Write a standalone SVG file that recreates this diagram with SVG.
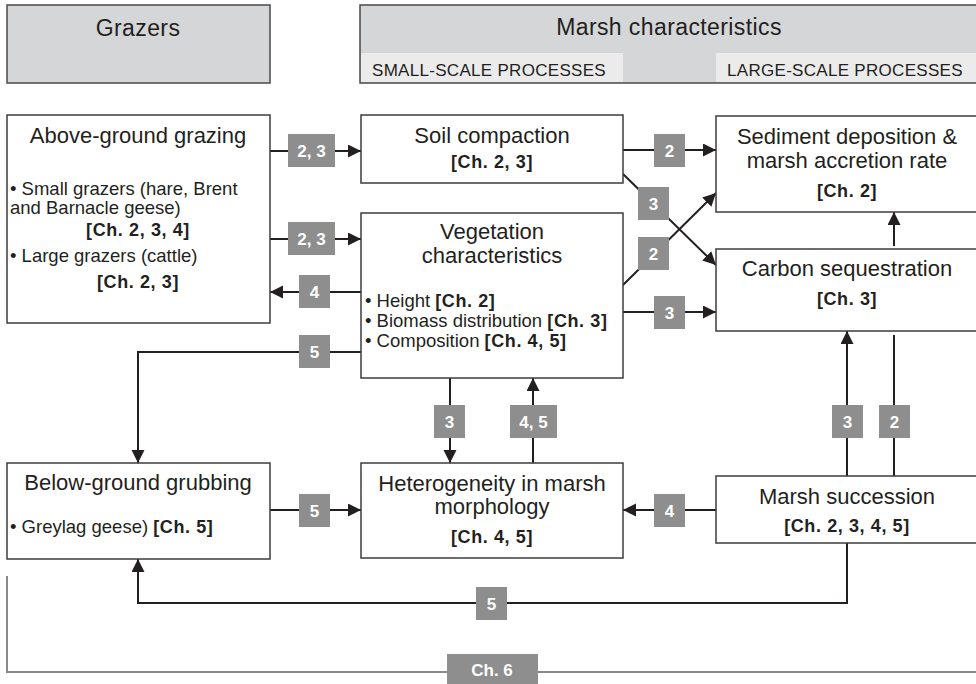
<svg xmlns="http://www.w3.org/2000/svg" width="976" height="684" viewBox="0 0 976 684">
<defs>
<marker id="ah" markerUnits="userSpaceOnUse" markerWidth="14" markerHeight="14" refX="13" refY="6.5" orient="auto">
<path d="M0,0 L13,6.5 L0,13 z" fill="#231f20"/>
</marker>
<style>
text{font-family:"Liberation Sans",Arial,sans-serif;fill:#231f20}
.hdr{fill:#d5d6d8;stroke:#4a4a4a;stroke-width:1.5}
.strip{fill:#ebebec}
.htxt{font-size:23px;text-anchor:middle;letter-spacing:0.4px}
.stxt{font-size:17px;letter-spacing:0.3px}
.box{fill:#fff;stroke:#3c3c3c;stroke-width:1.5}
.title{font-size:22px;text-anchor:middle}
.body{font-size:18.5px}
.ref{font-size:18px;font-weight:bold;letter-spacing:0.6px}
.c{text-anchor:middle}
.ln{fill:none;stroke:#231f20;stroke-width:2}
.arr{marker-end:url(#ah)}
.lbl{fill:#8e8e8e}
.ltxt{font-size:17px;font-weight:bold;fill:#fff;text-anchor:middle}
.ch6{fill:none;stroke:#8a8a8a;stroke-width:2}
</style>
</defs>
<rect width="976" height="684" fill="#fff"/>

<g id="header-grazers">
<rect class="hdr" x="7" y="5" width="263" height="78"/>
<text class="htxt" x="138" y="36">Grazers</text>
</g>
<g id="header-marsh">
<rect class="hdr" x="360" y="5" width="630" height="78"/>
<rect class="strip" x="361" y="53" width="262" height="29"/>
<rect class="strip" x="716" y="53" width="270" height="29"/>
<text class="htxt" x="669" y="35">Marsh characteristics</text>
<text class="stxt" x="372" y="76">SMALL-SCALE PROCESSES</text>
<text class="stxt" x="727" y="76">LARGE-SCALE PROCESSES</text>
</g>

<g id="chapter6">
<path class="ch6" d="M7,576 V672 H980"/>
<rect class="lbl" x="447" y="654" width="91" height="34"/>
<text class="ltxt" x="492" y="676">Ch. 6</text>
</g>

<g id="connectors">
<line class="ln arr" x1="270" y1="151" x2="361" y2="151"/>
<line class="ln arr" x1="270" y1="239" x2="361" y2="239"/>
<line class="ln arr" x1="361" y1="292" x2="270" y2="292"/>
<path class="ln arr" d="M361,352 H138 V463"/>
<line class="ln arr" x1="270" y1="510" x2="361" y2="510"/>
<line class="ln arr" x1="450" y1="378" x2="450" y2="463"/>
<line class="ln arr" x1="533" y1="463" x2="533" y2="378"/>
<line class="ln arr" x1="623" y1="150" x2="716" y2="150"/>
<line class="ln arr" x1="623" y1="174" x2="716" y2="265"/>
<line class="ln arr" x1="623" y1="285" x2="716" y2="193"/>
<line class="ln arr" x1="623" y1="312" x2="716" y2="312"/>
<line class="ln arr" x1="847" y1="476" x2="847" y2="331"/>
<line class="ln" x1="894" y1="476" x2="894" y2="335"/>
<line class="ln arr" x1="894" y1="246" x2="894" y2="212"/>
<line class="ln arr" x1="716" y1="510" x2="623" y2="510"/>
<path class="ln arr" d="M847,543 V603 H138 V559"/>

<rect class="lbl" x="288" y="134" width="47" height="33"/><text class="ltxt" x="311.5" y="157">2, 3</text>
<rect class="lbl" x="288" y="222" width="47" height="33"/><text class="ltxt" x="311.5" y="245">2, 3</text>
<rect class="lbl" x="299" y="275" width="31" height="33"/><text class="ltxt" x="314.5" y="298">4</text>
<rect class="lbl" x="299" y="335" width="31" height="33"/><text class="ltxt" x="314.5" y="358">5</text>
<rect class="lbl" x="299" y="494" width="31" height="33"/><text class="ltxt" x="314.5" y="517">5</text>
<rect class="lbl" x="434" y="405" width="31" height="33"/><text class="ltxt" x="449.5" y="428">3</text>
<rect class="lbl" x="510" y="405" width="47" height="33"/><text class="ltxt" x="533.5" y="428">4, 5</text>
<rect class="lbl" x="654" y="134" width="31" height="33"/><text class="ltxt" x="669.5" y="157">2</text>
<rect class="lbl" x="638" y="187" width="31" height="33"/><text class="ltxt" x="653.5" y="210">3</text>
<rect class="lbl" x="638" y="237" width="31" height="33"/><text class="ltxt" x="653.5" y="260">2</text>
<rect class="lbl" x="654" y="296" width="31" height="33"/><text class="ltxt" x="669.5" y="319">3</text>
<rect class="lbl" x="832" y="405" width="31" height="33"/><text class="ltxt" x="847.5" y="428">3</text>
<rect class="lbl" x="879" y="405" width="31" height="33"/><text class="ltxt" x="894.5" y="428">2</text>
<rect class="lbl" x="654" y="494" width="31" height="33"/><text class="ltxt" x="669.5" y="517">4</text>
<rect class="lbl" x="476" y="587" width="31" height="33"/><text class="ltxt" x="491.5" y="610">5</text>
</g>

<g id="above-ground-grazing">
<rect class="box" x="7" y="115" width="263" height="208"/>
<text class="title" x="138" y="143">Above-ground grazing</text>
<text class="body" x="10" y="195">• Small grazers (hare, Brent</text>
<text class="body" x="10" y="214">and Barnacle geese)</text>
<text class="ref c" x="138" y="236">[Ch. 2, 3, 4]</text>
<text class="body" x="10" y="262">• Large grazers (cattle)</text>
<text class="ref c" x="138" y="288">[Ch. 2, 3]</text>
</g>

<g id="soil-compaction">
<rect class="box" x="361" y="115" width="262" height="68"/>
<text class="title" x="492" y="143">Soil compaction</text>
<text class="ref c" x="492" y="168">[Ch. 2, 3]</text>
</g>

<g id="vegetation-characteristics">
<rect class="box" x="361" y="213" width="262" height="165"/>
<text class="title" x="492" y="239">Vegetation</text>
<text class="title" x="492" y="263">characteristics</text>
<text class="body" x="365" y="307">• Height <tspan class="ref">[Ch. 2]</tspan></text>
<text class="body" x="365" y="327">• Biomass distribution <tspan class="ref">[Ch. 3]</tspan></text>
<text class="body" x="365" y="347">• Composition <tspan class="ref">[Ch. 4, 5]</tspan></text>
</g>

<g id="sediment-deposition">
<rect class="box" x="716" y="116" width="270" height="96"/>
<text class="title" x="847" y="144">Sediment deposition &amp;</text>
<text class="title" x="847" y="168">marsh accretion rate</text>
<text class="ref c" x="847" y="197">[Ch. 2]</text>
</g>

<g id="carbon-sequestration">
<rect class="box" x="716" y="249" width="270" height="82"/>
<text class="title" x="847" y="276">Carbon sequestration</text>
<text class="ref c" x="847" y="305">[Ch. 3]</text>
</g>

<g id="below-ground-grubbing">
<rect class="box" x="7" y="463" width="263" height="96"/>
<text class="title" x="138" y="490">Below-ground grubbing</text>
<text class="body" x="10" y="533">• Greylag geese) <tspan class="ref">[Ch. 5]</tspan></text>
</g>

<g id="heterogeneity">
<rect class="box" x="361" y="463" width="262" height="95"/>
<text class="title" x="492" y="491">Heterogeneity in marsh</text>
<text class="title" x="492" y="514">morphology</text>
<text class="ref c" x="492" y="543">[Ch. 4, 5]</text>
</g>

<g id="marsh-succession">
<rect class="box" x="716" y="476" width="270" height="67"/>
<text class="title" x="847" y="504">Marsh succession</text>
<text class="ref c" x="847" y="532">[Ch. 2, 3, 4, 5]</text>
</g>
</svg>
